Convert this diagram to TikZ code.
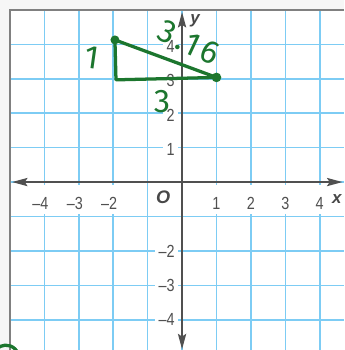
\documentclass[tikz,border=0pt]{standalone}
\usepackage{fontspec}
\setmainfont{Liberation Sans}
\newfontfamily\axisfont[FakeStretch=0.82]{Liberation Sans}
\newfontfamily\handfont[LetterSpace=12]{Fira Sans}
\usetikzlibrary{arrows.meta}
\definecolor{gridblue}{RGB}{125,204,244}
\definecolor{axisgray}{RGB}{80,80,80}
\definecolor{penGreen}{RGB}{28,118,46}
\tikzset{
  gridline/.style={gridblue,line width=1.3pt},
  axisline/.style={axisgray,line width=1.3pt,{Stealth[length=4.5mm,width=2.4mm,inset=0.8mm]}-{Stealth[length=4.5mm,width=2.4mm,inset=0.8mm]}},
  xlab/.style={fill=white,inner sep=0pt,minimum width=0.56cm,minimum height=0.84cm,text height=0.6cm,text depth=0pt,font=\axisfont\fontsize{14.5}{14}\selectfont,text=axisgray},
  ylab/.style={fill=white,inner xsep=3pt,inner ysep=1pt,anchor=east,font=\axisfont\fontsize{14.5}{14}\selectfont,text=axisgray},
  axname/.style={font=\bfseries\itshape\fontsize{14}{14}\selectfont,text=axisgray!90!black},
  pen/.style={penGreen,line width=2.7pt,line cap=round,line join=round},
  hand/.style={text=penGreen,font=\handfont\fontsize{27}{27}\selectfont}
}
\begin{document}
\begin{tikzpicture}
\useasboundingbox (-5.29,-4.88) rectangle (4.71,5.29);
\fill[gray!7] (-5.29,-4.88) rectangle (4.71,5.29);
\fill[white] (-5,-4.88) rectangle (4.71,5);
% graph paper
\foreach \k in {-4,...,4} {
  \draw[gridline] (\k,-4.88) -- (\k,5);
  \draw[gridline] (-5,\k) -- (4.71,\k);
}
\draw[gray,line width=1.1pt] (-5,-4.88) -- (-5,5) -- (4.71,5);
% axis labels
\foreach \k in {2,3,4} {
  \node[xlab] (xm\k) at (-\k,-0.5) {\llap{\textendash}\k};
  \node[ylab] (ym\k) at (-0.1,-\k) {\textendash\k};
}
\foreach \k in {1,2,3,4} {
  \node[xlab] (xp\k) at (\k,-0.5) {\k};
  \node[ylab] (yp\k) at (-0.1,\k-0.06) {\k};
}
\node[axname,font=\bfseries\itshape\fontsize{15}{15}\selectfont] (orig) at (-0.55,-0.44) {O};
\node[axname] (xname) at (4.5,-0.5) {x};
\node[axname] (yname) at (0.38,4.7) {y};
% axes
\coordinate (xl) at (-4.94,0);
\coordinate (xr) at (4.66,0);
\coordinate (yb) at (0,-4.86);
\coordinate (yt) at (0,4.94);
\draw[axisline] (xl) -- (xr);
\draw[axisline] (yb) -- (yt);
% pen marks
\coordinate (A) at (-1.95,4.13);
\coordinate (B) at (1.0,3.04);
\coordinate (C) at (-1.92,2.97);
\draw[pen] (A) -- (C) -- (B);
\draw[pen] (A) -- (B);
\fill[penGreen] (A) circle (0.13);
\fill[penGreen] (B) circle (0.14);
\node[hand,rotate=-8] (side) at (-2.62,3.62) {1};
\node[hand] (base) at (-0.58,2.33) {3};
\node[hand,rotate=-25] (hyp) at (0.2,4.05) {3.16};
\coordinate (mark) at (-5.12,-5.12);
\draw[pen] (mark) ++(160:0.38) arc[start angle=160,end angle=20,radius=0.38];
\end{tikzpicture}
\end{document}
